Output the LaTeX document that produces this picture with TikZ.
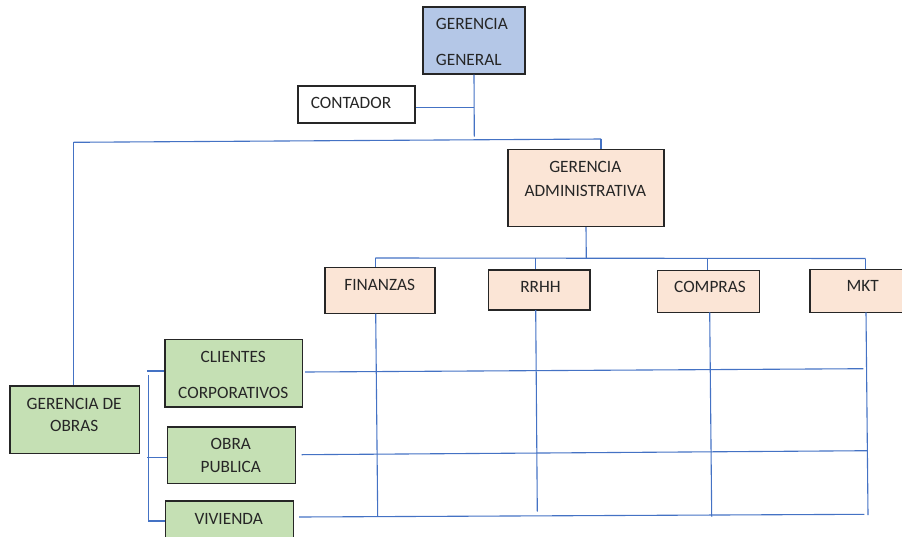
\documentclass[tikz,border=0pt]{standalone}
\usepackage{fontspec}
\setmainfont{Carlito}
\definecolor{lineblue}{HTML}{4472C4}
\definecolor{gblue}{HTML}{B4C7E7}
\definecolor{peach}{HTML}{FBE5D6}
\definecolor{lgreen}{HTML}{C5E0B4}
\definecolor{txt}{HTML}{262626}
\begin{document}
\begin{tikzpicture}[x=1pt,y=-1pt,
  box/.style={draw=black!85,line width=1.2pt,inner sep=0pt},
  w/.style={box,fill=white},
  b/.style={box,fill=gblue},
  p/.style={box,fill=peach},
  g/.style={box,fill=lgreen},
  lbl/.style={inner sep=0pt,text=txt,font=\fontsize{17.3}{20}\selectfont},
  conn/.style={draw=lineblue,line width=1.1pt}]
\useasboundingbox (0,0) rectangle (902,536);
% boxes
\node[b,minimum width=102pt,minimum height=67pt] (gg) at (474,40.5) {};
\node[w,minimum width=117pt,minimum height=37pt] (cont) at (356.5,104.5) {};
\node[p,minimum width=156pt,minimum height=77pt] (ga) at (586,188) {};
\node[p,minimum width=110pt,minimum height=46pt] (fin) at (380,290.7) {};
\node[p,minimum width=101.5pt,minimum height=40pt] (rrhh) at (539.3,290) {};
\node[p,minimum width=101.6pt,minimum height=42pt] (comp) at (708.5,291.3) {};
\node[p,minimum width=105pt,minimum height=43pt] (mkt) at (862.5,290.8) {};
\node[g,minimum width=129.3pt,minimum height=67.7pt] (gdo) at (74.7,419.8) {};
\node[g,minimum width=137.7pt,minimum height=67.3pt] (cc) at (233.8,373.3) {};
\node[g,minimum width=128.4pt,minimum height=56.3pt] (op) at (231.5,455.2) {};
\node[g,minimum width=128pt,minimum height=50pt] (viv) at (229.3,526) {};
% texts
\node[lbl,anchor=west] (t1) at (435.7,24.3) {GERENCIA};
\node[lbl,anchor=west] (t2) at (435.7,60) {GENERAL};
\node[lbl,anchor=west] (t3) at (310.7,103.3) {CONTADOR};
\node[lbl] (t4) at (585.3,166.7) {GERENCIA};
\node[lbl] (t5) at (585.3,190.7) {ADMINISTRATIVA};
\node[lbl] (t6) at (379.7,285) {FINANZAS};
\node[lbl] (t7) at (540.5,287) {RRHH};
\node[lbl] (t8) at (710,287) {COMPRAS};
\node[lbl] (t9) at (862.7,286) {MKT};
\node[lbl] (t10) at (74.2,404) {GERENCIA DE};
\node[lbl] (t11) at (74.2,426) {OBRAS};
\node[lbl] (t12) at (233.3,356.7) {CLIENTES};
\node[lbl] (t13) at (233.3,393.3) {CORPORATIVOS};
\node[lbl] (t14) at (230.8,444.3) {OBRA};
\node[lbl] (t15) at (230.8,466.7) {PUBLICA};
\node[lbl] (t16) at (228.7,518.7) {VIVIENDA};
% coordinates
\coordinate (j1) at (474.3,136.7);
\coordinate (k) at (474.3,107.7);
\coordinate (hl) at (73.3,142.3);
\coordinate (hr) at (601,139);
\coordinate (gab) at (586.3,258.3);
\coordinate (bl) at (375.3,258);
\coordinate (br) at (865.7,258.5);
\coordinate (s2) at (535.3,258);
\coordinate (s3) at (707.7,258);
\coordinate (v1t) at (375.7,313.7);
\coordinate (v1b) at (377.7,516.3);
\coordinate (v2t) at (535.7,310);
\coordinate (v2b) at (537.3,511.7);
\coordinate (v3t) at (709.7,312.3);
\coordinate (v3b) at (711.7,516.7);
\coordinate (v4t) at (866,312.3);
\coordinate (v4b) at (868,515);
\coordinate (r1a) at (305,372);
\coordinate (r1b) at (863.3,368.7);
\coordinate (r2a) at (301.7,454.7);
\coordinate (r2b) at (867.7,450.7);
\coordinate (r3a) at (299,517);
\coordinate (r3b) at (864.3,514.3);
\coordinate (b1) at (147,371);
\coordinate (b2) at (147,457.7);
\coordinate (b3) at (148.3,521);
\coordinate (bt) at (148.3,375);
% connectors
\draw[conn] (gg.south) -- (j1);
\draw[conn] (k -| cont.east) -- (k);
\draw[conn] (hl) -- (hr);
\draw[conn] (hr) -- (hr |- ga.north);
\draw[conn] (hl) -- (hl |- gdo.north);
\draw[conn] (ga.south) -- (gab);
\draw[conn] (bl) -- (br);
\draw[conn] (bl) -- (bl |- fin.north);
\draw[conn] (s2) -- (s2 |- rrhh.north);
\draw[conn] (s3) -- (s3 |- comp.north);
\draw[conn] (br) -- (br |- mkt.north);
\draw[conn] (v1t) -- (v1b);
\draw[conn] (v2t) -- (v2b);
\draw[conn] (v3t) -- (v3b);
\draw[conn] (v4t) -- (v4b);
\draw[conn] (r1a) -- (r1b);
\draw[conn] (r2a) -- (r2b);
\draw[conn] (r3a) -- (r3b);
\draw[conn] (bt) -- (b3);
\draw[conn] (b1) -- (b1 -| cc.west);
\draw[conn] (b2) -- (b2 -| op.west);
\draw[conn] (b3) -- (b3 -| viv.west);
\end{tikzpicture}
\end{document}
